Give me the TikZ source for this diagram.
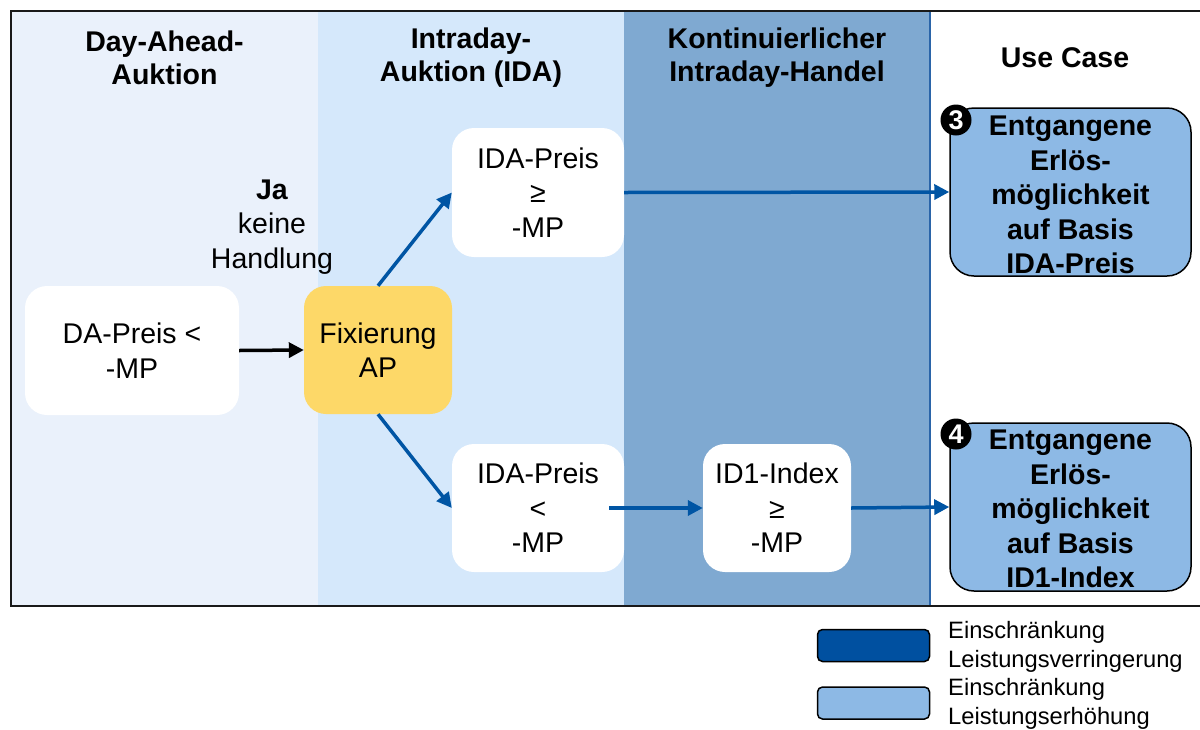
\documentclass[tikz,border=0pt]{standalone}
\usepackage{fontspec}
\setmainfont{Liberation Sans}
\usetikzlibrary{arrows.meta}
\definecolor{colA}{HTML}{EAF1FB}
\definecolor{colB}{HTML}{D5E8FB}
\definecolor{colC}{HTML}{7FA9D1}
\definecolor{ucfill}{HTML}{8DB9E5}
\definecolor{darkleg}{HTML}{0050A0}
\definecolor{arrblue}{HTML}{0055A4}
\definecolor{sepblue}{HTML}{2A64A8}
\definecolor{fixy}{HTML}{FDD868}
\tikzset{
  txt/.style={font=\fontsize{28.5}{34.5}\selectfont, align=center, inner sep=0pt},
  hdr/.style={font=\fontsize{28.5}{33}\selectfont\bfseries, align=center, inner sep=0pt},
  wbox/.style={txt, fill=white, rounded corners=22pt},
  ucbox/.style={txt, font=\fontsize{28.5}{34.5}\selectfont\bfseries, fill=ucfill, draw=black, line width=1.5pt, rounded corners=24pt},
  badge/.style={circle, fill=black, text=white, inner sep=0pt, minimum size=31pt, font=\fontsize{27}{27}\selectfont\bfseries},
  barrow/.style={draw=arrblue, line width=3.5pt, -{Triangle[length=15pt,width=15pt]}},
  karrow/.style={draw=black, line width=3.5pt, -{Triangle[length=15pt,width=15pt]}},
  legbox/.style={draw=black, line width=1.5pt, rounded corners=5pt, minimum width=112pt, minimum height=32pt, inner sep=0pt},
  legtxt/.style={font=\fontsize{23.7}{28.5}\selectfont, align=left, inner sep=0pt, anchor=west}
}
\begin{document}
\begin{tikzpicture}[x=1pt,y=-1pt]
\useasboundingbox (0,0) rectangle (1200,729);
% column backgrounds
\fill[colA] (11,11) rectangle (318,606);
\fill[colB] (318,11) rectangle (624,606);
\fill[colC] (624,11) rectangle (930,606);
\fill[white] (930,11) rectangle (1200,606);
\draw[sepblue, line width=2pt] (930,11) -- (930,606);
\draw[black!90, line width=2pt] (1200,11) -- (11,11) -- (11,606) -- (1200,606);
% headers
\node[hdr] (h1) at (164.5,58) {Day-Ahead-\\Auktion};
\node[hdr] (h2) at (471,58) {Intraday-\\Auktion (IDA)};
\node[hdr] (h3) at (777,58) {Kontinuierlicher\\Intraday-Handel};
\node[hdr] (h4) at (1065,58) {Use Case};
% nodes
\node[wbox, minimum width=214pt, minimum height=129pt] (da) at (132,350.5) {DA-Preis <\\-MP};
\node[wbox, fill=fixy, minimum width=148pt, minimum height=128pt] (fix) at (378,350) {Fixierung\\AP};
\node[wbox, minimum width=172pt, minimum height=129pt] (idaT) at (538,192.5) {IDA-Preis\\≥\\-MP};
\node[wbox, minimum width=172pt, minimum height=128pt] (idaB) at (538,508) {IDA-Preis\\<\\-MP};
\node[wbox, minimum width=148pt, minimum height=128pt] (id1) at (777,508) {ID1-Index\\≥\\-MP};
\node[ucbox, minimum width=241pt, minimum height=168pt] (uc3) at (1070.5,192) {};
\node[txt, font=\fontsize{28.5}{34.5}\selectfont\bfseries] (uc3t) at (1070.5,195) {Entgangene\\Erlös-\\möglichkeit\\auf Basis\\IDA-Preis};
\node[ucbox, minimum width=241pt, minimum height=168pt] (uc4) at (1070.5,507) {};
\node[txt, font=\fontsize{28.5}{34.5}\selectfont\bfseries] (uc4t) at (1070.5,509) {Entgangene\\Erlös-\\möglichkeit\\auf Basis\\ID1-Index};
\node[badge] (b3) at (956,120) {3};
\node[badge] (b4) at (956,434) {4};
\node[txt] (ja) at (272,227) {\textbf{Ja}\\keine\\Handlung};
% connectors
\draw[karrow] (da.east) -- (fix.west);
\draw[barrow] (fix.north) -- (idaT.west);
\draw[barrow] (fix.south) -- (idaB.west);
\draw[barrow] (idaT.east) -- (uc3.west);
\draw[barrow] ([xshift=-15pt]idaB.east) -- (id1.west);
\draw[barrow] (id1.east) -- (uc4.west);
% legend
\node[legbox, fill=darkleg] (l1) at (873.5,645.5) {};
\node[legbox, fill=ucfill] (l2) at (873.5,703) {};
\node[legtxt] (t1) at (948,647) {Einschränkung\\Leistungsverringerung};
\node[legtxt] (t2) at (948,704) {Einschränkung\\Leistungserhöhung};
\end{tikzpicture}
\end{document}
